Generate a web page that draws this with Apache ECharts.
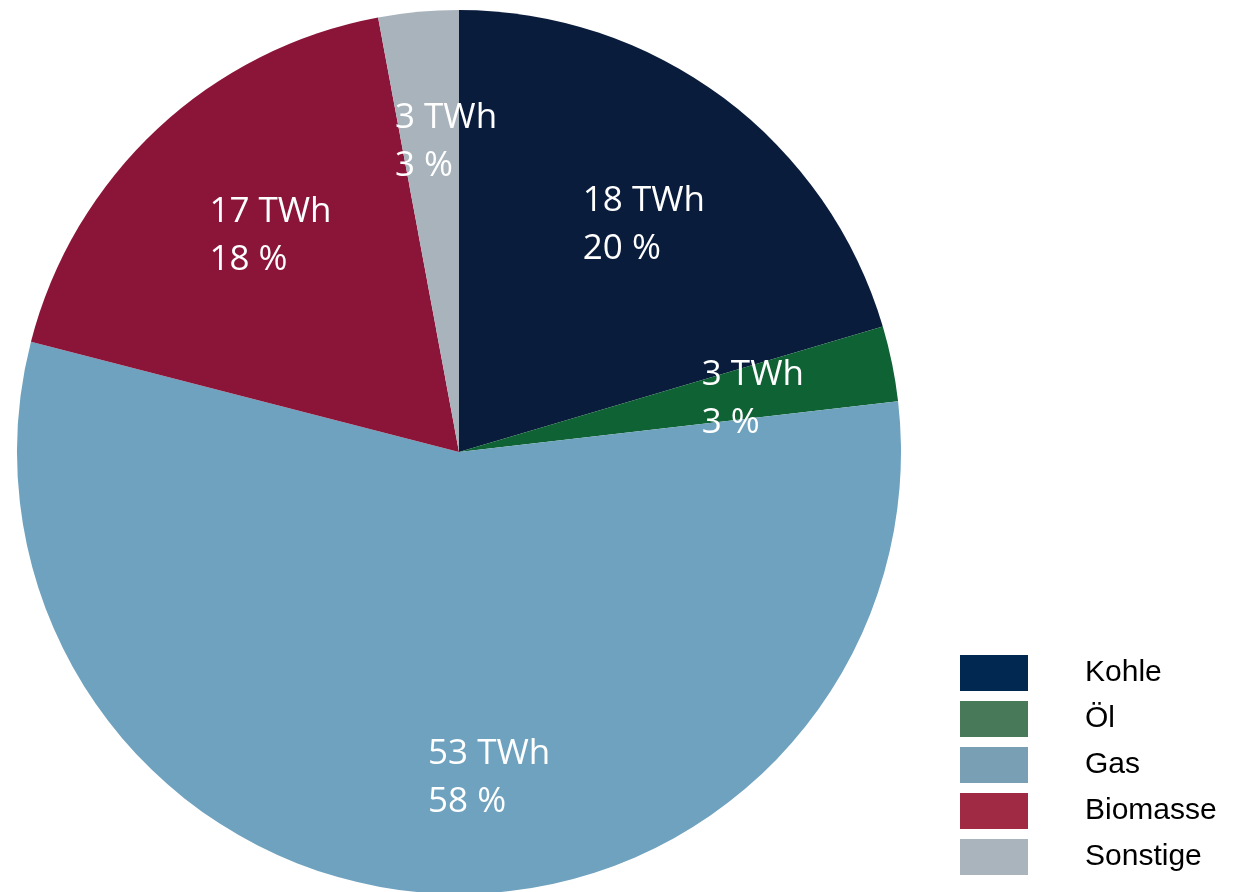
<!DOCTYPE html>
<html>
<head>
<meta charset="utf-8">
<script src="https://cdn.jsdelivr.net/npm/echarts@6/dist/echarts.min.js"></script>
<style>
html,body{margin:0;padding:0;background:#fff;}
#chart{width:1238px;height:892px;}
</style>
</head>
<body>
<div id="chart"></div>
<script>
// Data
const categories = ['Kohle', 'Öl', 'Gas', 'Biomasse', 'Sonstige'];
const shares = [20.42, 2.75, 55.85, 18.06, 2.93];   // slice sizes (share of circle, %)
const twhLabels = [18, 3, 53, 17, 3];               // labelled energy (TWh)
const pctLabels = [20, 3, 58, 18, 3];               // labelled percentage

// Styles
const sliceColors = ['#0a1c3c', '#0e6233', '#6fa2bf', '#8b1539', '#a8b3bc'];
const legendColors = ['#002850', '#487a5a', '#789fb4', '#a02a44', '#a9b4bd'];
const labelNudge = [[3, 17], [-4, 8], [51, 23], [19, 6], [15, -7]];

const chart = echarts.init(document.getElementById('chart'));

const center = [459, 452];
const R = 442;

const baseData = categories.map((c, i) => ({
  name: c, value: shares[i], itemStyle: { color: sliceColors[i] }
}));
const labelData = categories.map((c, i) => ({
  name: c, value: shares[i],
  itemStyle: { color: 'rgba(0,0,0,0)' },
  label: { offset: labelNudge[i] }
}));

chart.setOption({
  animation: false,
  legend: {
    orient: 'vertical',
    left: 960,
    top: 655,
    padding: 0,
    itemWidth: 68,
    itemHeight: 36,
    itemGap: 10,
    icon: 'rect',
    selectedMode: false,
    data: categories.map((c, i) => ({ name: c, itemStyle: { color: legendColors[i] } })),
    textStyle: {
      fontFamily: 'Liberation Sans, Arial, Helvetica, sans-serif',
      fontSize: 30,
      color: '#000',
      lineHeight: 36,
      padding: [0, 0, 0, 52]
    }
  },
  series: [
    {
      type: 'pie',
      center: center,
      radius: [0, R],
      startAngle: 90,
      clockwise: true,
      label: { show: false },
      labelLine: { show: false },
      emphasis: { disabled: true },
      itemStyle: { borderWidth: 0 },
      data: baseData
    },
    {
      type: 'pie',
      center: center,
      radius: [160, R],
      startAngle: 90,
      clockwise: true,
      silent: true,
      emphasis: { disabled: true },
      legendHoverLink: false,
      labelLine: { show: false },
      label: {
        show: true,
        position: 'inside',
        formatter: function (p) {
          return '{a|' + twhLabels[p.dataIndex] + ' TWh}\n{a|' + pctLabels[p.dataIndex] + ' %}';
        },
        rich: {
          a: {
            align: 'left',
            color: '#ffffff',
            fontFamily: 'Open Sans, sans-serif',
            fontSize: 35,
            lineHeight: 48
          }
        }
      },
      data: labelData
    }
  ]
});
</script>
</body>
</html>
